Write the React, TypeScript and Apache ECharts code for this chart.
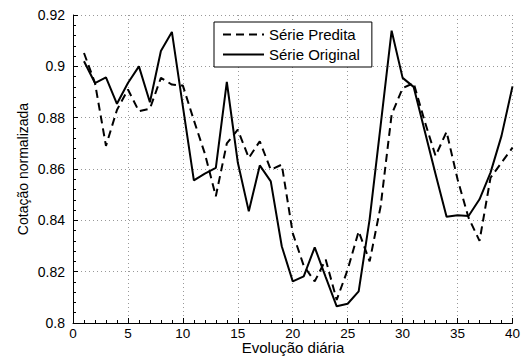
import React, { useEffect, useRef } from "react";
import * as echarts from "echarts";

const days = [1, 2, 3, 4, 5, 6, 7, 8, 9, 10, 11, 12, 13, 14, 15, 16, 17, 18, 19, 20, 21, 22, 23, 24, 25, 26, 27, 28, 29, 30, 31, 32, 33, 34, 35, 36, 37, 38, 39, 40];

const predicted = [
  0.9052, 0.8935, 0.869, 0.883, 0.891, 0.8825, 0.8835, 0.8955, 0.8929, 0.8925,
  0.879, 0.866, 0.8494, 0.870, 0.8753, 0.8643, 0.8708, 0.8597, 0.8617, 0.835,
  0.8223, 0.8162, 0.8247, 0.809, 0.8208, 0.8357, 0.824, 0.8455, 0.8812, 0.8915,
  0.8935, 0.8787, 0.8651, 0.8745, 0.856, 0.841, 0.832, 0.8566, 0.8625, 0.8683,
];

const original = [
  0.902, 0.8935, 0.8957, 0.8854, 0.8935, 0.900, 0.886, 0.906, 0.9134, 0.8844,
  0.8556, 0.8582, 0.8604, 0.8939, 0.8625, 0.8435, 0.8614, 0.8552, 0.8299, 0.8162,
  0.8182, 0.8295, 0.8179, 0.8065, 0.8075, 0.8123, 0.8405, 0.877, 0.9139, 0.8955,
  0.892, 0.875, 0.858, 0.8414, 0.842, 0.8417, 0.8482, 0.8586, 0.8729, 0.8922,
];

const seriesNames = ["Série Predita", "Série Original"];
const xLabel = "Evolução diária";
const yLabel = "Cotação normalizada";

const FONT = "'Liberation Sans', Arial, Helvetica, sans-serif";

export default function App() {
  const ref = useRef<HTMLDivElement>(null);

  useEffect(() => {
    if (!ref.current) return;
    const chart = echarts.init(ref.current, undefined, { renderer: "svg" });
    const gridLine = { show: true, lineStyle: { color: "#999999", type: [1, 3] as any, width: 1 } };
    chart.setOption({
      animation: false,
      backgroundColor: "#ffffff",
      textStyle: { fontFamily: FONT },
      grid: { left: 73, right: 10, top: 15, bottom: 37, containLabel: false },
      legend: {
        orient: "vertical",
        left: 214,
        top: 22,
        backgroundColor: "#ffffff",
        borderColor: "#000000",
        borderWidth: 1,
        padding: [5, 12, 5, 8],
        itemWidth: 41,
        itemHeight: 14,
        itemGap: 5,
        itemStyle: { opacity: 0 },
        textStyle: { fontFamily: FONT, fontSize: 15, color: "#000", padding: [0, 0, 0, 0] },
        data: seriesNames,
      },
      xAxis: {
        type: "value",
        min: 0,
        max: 40,
        interval: 5,
        axisLine: { show: true, lineStyle: { color: "#000", width: 1 } },
        axisTick: { show: true, inside: true, length: 5, lineStyle: { color: "#000" } },
        minorTick: { show: true, splitNumber: 5, length: 3, lineStyle: { color: "#000" } },
        axisLabel: { fontFamily: FONT, fontSize: 13.5, color: "#000", margin: 3 },
        splitLine: gridLine,
      },
      yAxis: {
        type: "value",
        min: 0.8,
        max: 0.92,
        interval: 0.02,
        axisLine: { show: true, lineStyle: { color: "#000", width: 1 } },
        axisTick: { show: true, inside: true, length: 5, lineStyle: { color: "#000" } },
        minorTick: { show: true, splitNumber: 5, length: 3, lineStyle: { color: "#000" } },
        axisLabel: { fontFamily: FONT, fontSize: 14, color: "#000", margin: 8 },
        splitLine: gridLine,
      },
      graphic: [
        {
          type: "text",
          x: 293,
          y: 347.5,
          style: { text: xLabel, font: `15px ${FONT}`, fill: "#000", align: "center", verticalAlign: "middle" },
        },
        {
          type: "text",
          x: 22.5,
          y: 169,
          rotation: Math.PI / 2,
          style: { text: yLabel, font: `14px ${FONT}`, fill: "#000", align: "center", verticalAlign: "middle" },
        },
      ],
      series: [
        {
          name: seriesNames[0],
          type: "line",
          symbol: "none",
          data: days.map((d, i) => [d, predicted[i]]),
          lineStyle: { color: "#000", width: 2, type: [8, 5] },
          itemStyle: { color: "#000" },
          z: 3,
        },
        {
          name: seriesNames[1],
          type: "line",
          symbol: "none",
          data: days.map((d, i) => [d, original[i]]),
          lineStyle: { color: "#000", width: 2, type: "solid" },
          itemStyle: { color: "#000" },
          z: 2,
        },
      ],
    });
    return () => chart.dispose();
  }, []);

  return <div ref={ref} style={{ width: 523, height: 360, position: "absolute", left: 0, top: 0 }} />;
}
